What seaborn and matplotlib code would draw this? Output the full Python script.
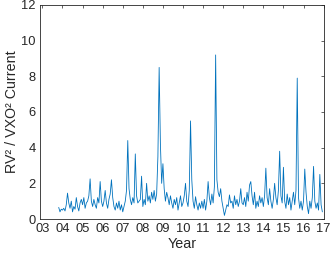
import numpy as np
import matplotlib
matplotlib.use("Agg")
import matplotlib.pyplot as plt
import seaborn as sns

# ratio sampled every 1/16 year, starting 2003 + 13/16
start_year = 2003.8125
step = 1 / 16

ratio = (
    [0.65, 0.4, 0.55]  # 2003
    + [0.5, 0.6, 0.45, 0.8, 1.45, 0.9, 0.6, 1.0, 0.4, 0.7, 0.55, 1.2, 0.7, 0.45, 0.9, 1.1]  # 2004
    + [0.8, 1.2, 0.6, 0.9, 1.0, 1.3, 2.25, 1.0, 0.7, 1.1, 0.8, 0.6, 1.2, 0.9, 2.1, 1.0]  # 2005
    + [0.7, 1.0, 1.6, 0.9, 0.6, 1.1, 1.4, 2.2, 1.2, 0.7, 0.5, 0.9, 0.6, 1.0, 0.5, 0.8]  # 2006
    + [0.4, 0.7, 1.0, 1.6, 4.4, 1.7, 1.1, 0.8, 1.2, 0.9, 3.65, 1.3, 0.9, 1.0, 1.1, 2.4]  # 2007
    + [0.7, 1.1, 0.8, 2.0, 1.0, 1.3, 0.9, 1.5, 1.1, 1.6, 1.0, 1.4, 3.5, 8.5, 4.2, 2.0]  # 2008
    + [3.1, 1.7, 1.0, 1.5, 1.2, 0.8, 1.3, 0.9, 0.6, 1.1, 0.8, 1.2, 0.5, 0.9, 1.3, 0.7]  # 2009
    + [0.9, 1.3, 2.0, 1.0, 0.7, 1.6, 5.5, 2.2, 1.0, 0.6, 1.25, 0.8, 0.5, 0.9, 0.6, 1.0]  # 2010
    + [0.6, 1.1, 0.5, 1.0, 2.1, 1.2, 0.8, 1.4, 0.9, 1.8, 9.2, 2.2, 1.5, 1.25, 1.7, 1.0]  # 2011
    + [0.6, 0.2, 0.5, 0.8, 0.7, 1.35, 0.9, 1.0, 0.6, 1.3, 0.8, 1.1, 0.7, 1.0, 1.7, 0.9]  # 2012
    + [0.8, 1.2, 0.7, 1.5, 1.0, 1.9, 2.1, 1.3, 0.8, 1.5, 0.6, 1.0, 0.7, 1.3, 0.9, 1.2]  # 2013
    + [0.7, 1.3, 2.85, 1.2, 0.8, 1.7, 1.0, 0.6, 1.1, 2.0, 1.2, 0.8, 1.6, 3.8, 1.3, 0.9]  # 2014
    + [2.9, 1.0, 0.6, 1.4, 0.8, 1.2, 0.5, 1.0, 1.5, 0.8, 1.6, 7.9, 1.2, 0.6, 1.0, 0.5]  # 2015
    + [1.0, 2.8, 1.5, 0.7, 0.3, 1.0, 0.6, 1.2, 2.95, 1.0, 0.6, 0.9, 0.5, 2.5, 0.8, 0.4]  # 2016
)

tick_years = list(range(2003, 2018))
tick_labels = [f"{y % 100:02d}" for y in tick_years]

years = start_year + step * np.arange(len(ratio))

sns.set_style("white")
plt.rcParams["font.family"] = ["Liberation Sans", "DejaVu Sans"]

ink = "#262626"
fig = plt.figure(figsize=(3.32, 2.57), dpi=100)
ax = fig.add_axes([40 / 332, 38 / 257, 284 / 332, 214 / 257])

sns.lineplot(x=years, y=ratio, ax=ax, color="#0072BD", linewidth=0.6)

ax.set_xlim(2002.88, 2017.02)
ax.set_ylim(0, 12)
ax.set_xticks(tick_years)
ax.set_xticklabels(tick_labels)
ax.set_yticks(range(0, 13, 2))
ax.tick_params(direction="in", length=2.5, width=0.5, colors=ink,
               labelsize=9.3, top=True, right=True, pad=3)
for s in ax.spines.values():
    s.set_color(ink)
    s.set_linewidth(0.6)
ax.set_xlabel("Year", fontsize=10.3, color=ink, labelpad=1)
ax.set_ylabel("RV² / VXO² Current", fontsize=10.3, color=ink, labelpad=2)

fig.savefig("out.png", dpi=100)
